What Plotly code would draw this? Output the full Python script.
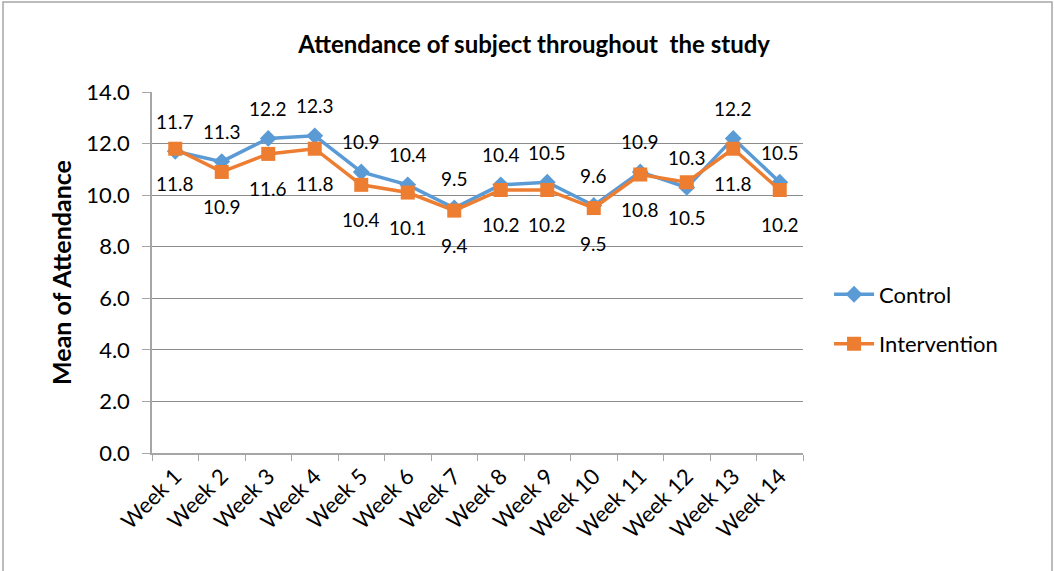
import plotly.graph_objects as go

weeks = [f"Week {i}" for i in range(1, 15)]
control = [11.7, 11.3, 12.2, 12.3, 10.9, 10.4, 9.5, 10.4, 10.5, 9.6, 10.9, 10.3, 12.2, 10.5]
intervention = [11.8, 10.9, 11.6, 11.8, 10.4, 10.1, 9.4, 10.2, 10.2, 9.5, 10.8, 10.5, 11.8, 10.2]

BLUE = "#5B9BD5"
ORANGE = "#ED7D31"
FONT = "Lato"

fig = go.Figure()
fig.add_trace(go.Scatter(
    x=weeks, y=control, name="Control", mode="lines+markers", legendgroup="c",
    line=dict(color=BLUE, width=3.5),
    marker=dict(symbol="diamond", size=13, color=BLUE),
))
fig.add_trace(go.Scatter(
    x=weeks, y=intervention, name="Intervention", mode="lines+markers", legendgroup="i",
    line=dict(color=ORANGE, width=3.5),
    marker=dict(symbol="square", size=14, color=ORANGE),
))

# value labels: control above its point, intervention below
annotations = []
for w, c, v in zip(weeks, control, intervention):
    annotations.append(dict(x=w, y=c, text=f"{c:.1f}", showarrow=False,
                            yshift=30, font=dict(family=FONT, size=19, color="#000")))
    annotations.append(dict(x=w, y=v, text=f"{v:.1f}", showarrow=False,
                            yshift=-35, font=dict(family=FONT, size=19, color="#000")))

fig.update_layout(
    width=1054, height=571,
    margin=dict(l=152, r=251, t=92, b=118),
    paper_bgcolor="white", plot_bgcolor="white",
    font=dict(family=FONT, color="#000"),
    title=dict(text="<b>Attendance of subject throughout  the study</b>",
               x=0.587, xref="paper", xanchor="center",
               y=1 - 45 / 571, yref="container", yanchor="middle",
               font=dict(family=FONT, size=24, color="#000")),
    showlegend=True,
    legend=dict(x=1.04, y=0.37, xanchor="left", yanchor="middle",
                font=dict(family=FONT, size=22, color="#000"),
                tracegroupgap=18, itemwidth=40, bgcolor="rgba(0,0,0,0)"),
    annotations=annotations,
    shapes=[dict(type="rect", xref="paper", yref="paper",
                 x0=(3 - 152) / 651, x1=(1052 - 152) / 651,
                 y0=(453 - 575) / 361, y1=(453 - 2) / 361,
                 line=dict(color="#A6A6A6", width=1.5), layer="below")],
)

fig.update_xaxes(
    type="category", range=[-0.5, 13.5], showgrid=False,
    showline=True, linecolor="#A6A6A6", linewidth=1.5,
    ticks="outside", tickson="boundaries", ticklen=6, tickcolor="#A6A6A6",
    tickangle=-45, tickfont=dict(family=FONT, size=22, color="#000"),
)
fig.update_yaxes(
    range=[0, 14], dtick=2, tickformat=".1f",
    showgrid=True, gridcolor="#8C8C8C", gridwidth=1,
    showline=True, linecolor="#A6A6A6", linewidth=1.5,
    ticks="outside", ticklen=8, tickcolor="#A6A6A6", ticklabelstandoff=8,
    tickfont=dict(family=FONT, size=22, color="#000"),
    zeroline=False,
    title=dict(text="<b>Mean of Attendance</b>", font=dict(family=FONT, size=25, color="#000"),
               standoff=8),
)

fig.write_html("out.html")
